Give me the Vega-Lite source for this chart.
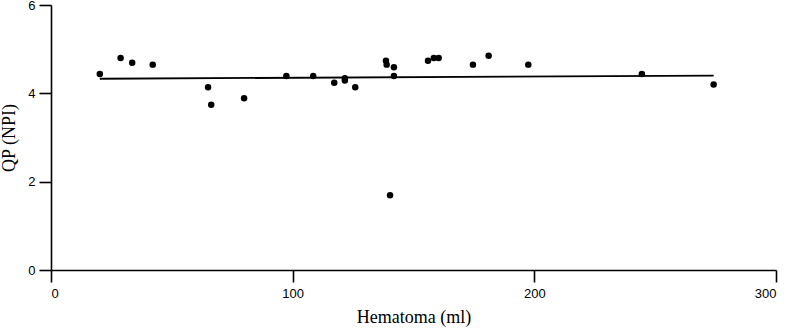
{
  "$schema": "https://vega.github.io/schema/vega-lite/v6.json",
  "width": 725,
  "height": 265,
  "autosize": {"type": "none"},
  "padding": {"left": 51, "top": 5, "right": 11, "bottom": 59},
  "background": "white",
  "config": {
    "view": {"stroke": null},
    "axis": {
      "grid": false,
      "domainColor": "black",
      "domainWidth": 1.6,
      "tickColor": "black",
      "tickWidth": 1.6,
      "tickSize": 12,
      "labelFont": "Liberation Sans",
      "labelFontSize": 13,
      "labelColor": "black",
      "titleFont": "Liberation Serif",
      "titleFontSize": 18,
      "titleFontWeight": "normal",
      "titleColor": "black"
    }
  },
  "datasets": {
    "points": [
      {"hematoma": 20.2, "qp": 4.44},
      {"hematoma": 28.8, "qp": 4.80},
      {"hematoma": 33.6, "qp": 4.69},
      {"hematoma": 42.1, "qp": 4.65},
      {"hematoma": 65.0, "qp": 4.14},
      {"hematoma": 66.3, "qp": 3.74},
      {"hematoma": 79.9, "qp": 3.89},
      {"hematoma": 97.4, "qp": 4.39},
      {"hematoma": 108.5, "qp": 4.39},
      {"hematoma": 117.2, "qp": 4.24},
      {"hematoma": 121.6, "qp": 4.34},
      {"hematoma": 121.6, "qp": 4.29},
      {"hematoma": 125.9, "qp": 4.14},
      {"hematoma": 138.6, "qp": 4.74},
      {"hematoma": 138.9, "qp": 4.65},
      {"hematoma": 140.3, "qp": 1.69},
      {"hematoma": 141.9, "qp": 4.59},
      {"hematoma": 141.9, "qp": 4.39},
      {"hematoma": 156.0, "qp": 4.74},
      {"hematoma": 158.4, "qp": 4.80},
      {"hematoma": 160.4, "qp": 4.80},
      {"hematoma": 174.6, "qp": 4.65},
      {"hematoma": 181.1, "qp": 4.85},
      {"hematoma": 197.5, "qp": 4.65},
      {"hematoma": 244.5, "qp": 4.44},
      {"hematoma": 274.2, "qp": 4.20}
    ],
    "fit": [
      {"hematoma": 20.2, "qp": 4.33},
      {"hematoma": 274.2, "qp": 4.40}
    ]
  },
  "layer": [
    {
      "data": {"name": "fit"},
      "mark": {"type": "line", "color": "black", "strokeWidth": 1.8},
      "encoding": {
        "x": {"field": "hematoma", "type": "quantitative"},
        "y": {"field": "qp", "type": "quantitative"}
      }
    },
    {
      "data": {"name": "points"},
      "mark": {"type": "circle", "color": "black", "opacity": 1, "size": 42},
      "encoding": {
        "x": {
          "field": "hematoma",
          "type": "quantitative",
          "scale": {"domain": [0, 300], "nice": false},
          "axis": {"values": [0, 100, 200, 300], "title": "Hematoma (ml)", "labelPadding": 5, "titlePadding": 8}
        },
        "y": {
          "field": "qp",
          "type": "quantitative",
          "scale": {"domain": [0, 6], "nice": false},
          "axis": {"values": [0, 2, 4, 6], "title": "QP (NPI)", "labelPadding": 4, "titlePadding": 9}
        }
      }
    }
  ]
}
